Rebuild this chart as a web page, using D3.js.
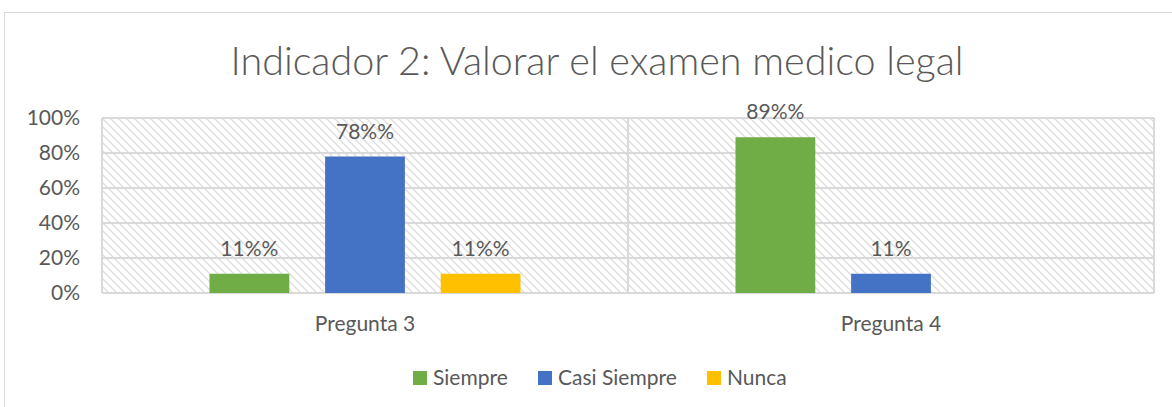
<!DOCTYPE html>
<html>
	<head>
		<title>Indicador 2</title>
		<meta charset="UTF-8">
		<style type="text/css">
			body { margin: 0; background: #fff; }
			text { font-family: Lato, "Open Sans", sans-serif; fill: #595959; }
		</style>
		<script src="https://d3js.org/d3.v7.min.js"></script>
	</head>
	<body>
		<script type="text/javascript">

			// data
			var categories = ["Pregunta 3", "Pregunta 4"];
			var series = ["Siempre", "Casi Siempre", "Nunca"];
			var colors = ["#70ad47", "#4472c4", "#ffc000"];
			var values = [
				[0.11, 0.78, 0.11],
				[0.89, 0.11, 0]
			];
			var labels = [
				["11%%", "78%%", "11%%"],
				["89%%", "11%", ""]
			];
			var yTicks = [0, 0.2, 0.4, 0.6, 0.8, 1];

			var width = 1172, height = 407;
			var plot = {left: 102, right: 1154, top: 118, bottom: 293};

			var svg = d3.select("body")
				.append("svg")
					.attr("width", width)
					.attr("height", height);

			// hatch pattern
			var pat = svg.append("defs").append("pattern")
				.attr("id", "hatch")
				.attr("patternUnits", "userSpaceOnUse")
				.attr("width", 8)
				.attr("height", 8);
			pat.append("path")
				.attr("d", "M-2,-2 L10,10 M-2,6 L2,10 M6,-2 L10,2")
				.attr("stroke", "#dedede")
				.attr("stroke-width", 1.4);

			// chart border
			svg.append("rect")
				.attr("x", 4.5).attr("y", 12.5)
				.attr("width", 1200).attr("height", 500)
				.attr("fill", "none")
				.attr("stroke", "#d9d9d9");

			svg.append("text")
				.attr("x", 597)
				.attr("y", 75)
				.attr("text-anchor", "middle")
				.style("font-size", "39.5px")
				.style("font-weight", 300)
				.text("Indicador 2: Valorar el examen medico legal");

			var x0 = d3.scaleBand().domain(categories).range([plot.left, plot.right]);
			var x1 = d3.scaleBand().domain(series).range([0, 311]).paddingInner(0.31);
			var y = d3.scaleLinear().domain([0, 1]).range([plot.bottom, plot.top]);

			svg.append("rect")
				.attr("x", plot.left).attr("y", plot.top)
				.attr("width", plot.right - plot.left)
				.attr("height", plot.bottom - plot.top)
				.attr("fill", "url(#hatch)");

			// gridlines
			svg.append("g")
				.selectAll("line")
				.data(yTicks)
				.join("line")
					.attr("x1", plot.left).attr("x2", plot.right)
					.attr("y1", function(d) { return y(d); })
					.attr("y2", function(d) { return y(d); })
					.attr("stroke", "#d9d9d9")
					.attr("stroke-width", 2);

			// vertical category lines
			var vx = [plot.left, x0(categories[1]), plot.right];
			svg.append("g")
				.selectAll("line")
				.data(vx)
				.join("line")
					.attr("x1", function(d) { return d; })
					.attr("x2", function(d) { return d; })
					.attr("y1", plot.top).attr("y2", plot.bottom)
					.attr("stroke", "#d9d9d9")
					.attr("stroke-width", 2);

			// y axis
			var yAxis = d3.axisLeft(y).tickValues(yTicks).tickFormat(d3.format(".0%")).tickSize(0).tickPadding(0);
			var ya = svg.append("g")
				.attr("transform", "translate(80,0)")
				.call(yAxis);
			ya.select(".domain").remove();
			ya.selectAll("text")
				.style("font-size", "21px")
				.attr("fill", "#595959");

			// x axis labels
			var xAxis = d3.axisBottom(x0).tickSize(0).tickPadding(0);
			var xa = svg.append("g")
				.attr("transform", "translate(0,316)")
				.call(xAxis);
			xa.select(".domain").remove();
			xa.selectAll("text")
				.style("font-size", "21px")
				.attr("fill", "#595959");

			// bars
			var groups = svg.append("g")
				.selectAll("g")
				.data(categories)
				.join("g")
					.attr("transform", function(d) {
						return "translate(" + (x0(d) + x0.bandwidth() / 2 - 155.5) + ",0)";
					});

			groups.selectAll("rect")
				.data(function(d, i) {
					return series.map(function(s, j) { return {s: s, v: values[i][j], c: colors[j]}; });
				})
				.join("rect")
					.filter(function(d) { return d.v > 0; })
					.attr("x", function(d) { return x1(d.s); })
					.attr("y", function(d) { return y(d.v); })
					.attr("width", x1.bandwidth())
					.attr("height", function(d) { return y(0) - y(d.v); })
					.attr("fill", function(d) { return d.c; });

			groups.selectAll("text.lbl")
				.data(function(d, i) {
					return series.map(function(s, j) { return {s: s, v: values[i][j], t: labels[i][j]}; });
				})
				.join("text")
					.attr("class", "lbl")
					.attr("x", function(d) { return x1(d.s) + x1.bandwidth() / 2; })
					.attr("y", function(d) { return y(d.v) - 18; })
					.attr("text-anchor", "middle")
					.style("font-size", "21px")
					.text(function(d) { return d.t; });

			// legend
			var legX = [413, 538, 707];
			var leg = svg.append("g")
				.selectAll("g")
				.data(series)
				.join("g")
					.attr("transform", function(d, i) { return "translate(" + legX[i] + ",371)"; });
			leg.append("rect")
				.attr("width", 14).attr("height", 14)
				.attr("fill", function(d, i) { return colors[i]; });
			leg.append("text")
				.attr("x", 20).attr("y", 14)
				.style("font-size", "21px")
				.text(function(d) { return d; });

		</script>
	</body>
</html>
